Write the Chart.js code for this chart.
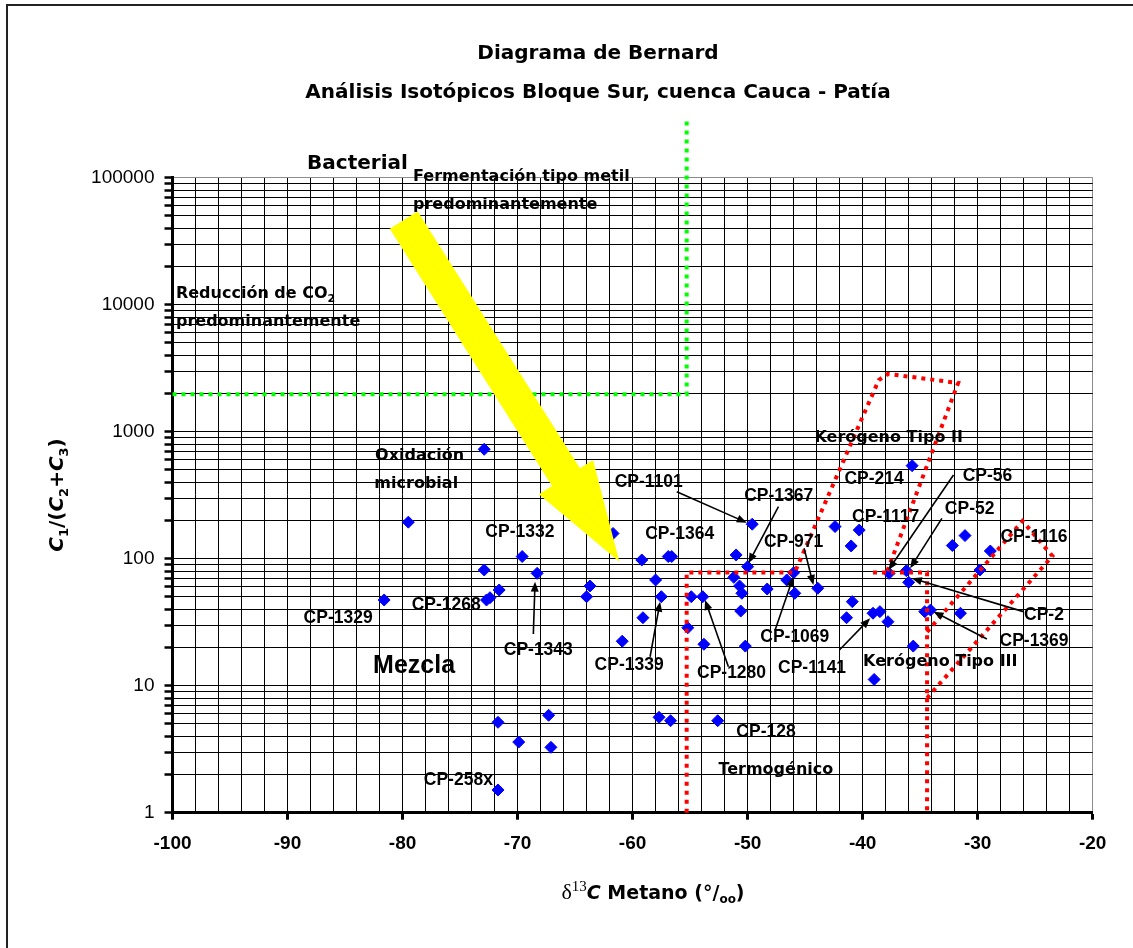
<!DOCTYPE html>
<html>
<head>
<meta charset="utf-8">
<title>Diagrama de Bernard</title>
<script src="https://cdn.jsdelivr.net/npm/chart.js@4.4.1/dist/chart.umd.min.js"></script>
<style>
  html, body { margin: 0; padding: 0; background: #fff; }
  #wrap { position: relative; width: 1133px; height: 948px; overflow: hidden; }
  #frame { position: absolute; left: 6px; top: 4px; width: 1140px; height: 960px; border-left: 2px solid #222; border-top: 2px solid #222; pointer-events: none; }
  canvas { position: absolute; left: 0; top: 0; }
</style>
</head>
<body>
<div id="wrap">
  <canvas id="bernardChart" width="1133" height="948"></canvas>
  <div id="frame"></div>
</div>
<script>
// muestras: d13C metano (per mil) y C1/(C2+C3)
const delta13C = [
  -72.9, -79.5, -69.6, -72.9, -68.3, -81.6, -72.7, -72.4, -71.6, -63.7,
  -64.0, -61.7, -59.2, -56.9, -56.6, -58.0, -57.5, -59.1, -60.9, -54.9,
  -53.9, -55.2, -53.8, -51.0, -49.6, -50.0, -51.2, -50.7, -50.5, -50.6,
  -50.2, -48.3, -46.6, -46.0, -45.9, -43.9, -42.4, -40.3, -41.0, -35.7,
  -37.7, -36.2, -36.0, -40.9, -41.4, -39.1, -38.5, -37.8, -35.6, -34.6,
  -34.1, -31.5, -32.2, -31.1, -29.8, -28.9, -39.0, -57.7, -56.7, -52.6,
  -71.7, -67.3, -69.9, -67.1, -71.7
];
const c1Ratio = [
  727, 194, 104, 81.5, 76.7, 47.3, 47.3, 49.3, 56.7, 61,
  50.2, 158, 97.7, 104, 104, 68, 50.2, 34.3, 22.4, 50.2,
  50.2, 28.6, 21.2, 107, 187, 86.5, 71.3, 61, 53.4, 38.7,
  20.5, 57.7, 68, 77.6, 53.4, 58.5, 179, 168, 126, 540,
  76.7, 80.5, 65.2, 45.9, 34.3, 37.2, 38.3, 31.9, 20.5, 38.3,
  39.4, 37.2, 127, 152, 81.5, 115, 11.2, 5.64, 5.3, 5.3,
  5.15, 5.85, 3.6, 3.27, 1.51
];

const xTickLabels = [-100, -90, -80, -70, -60, -50, -40, -30, -20];
const yTickLabels = [1, 10, 100, 1000, 10000, 100000];

// limites de los campos del diagrama
const bacterialX = [-100, -55.3, -55.3];
const bacterialY = [1970, 1970, 284000];
const termoX = [-55.3, -55.3, -45.9, -38.6, -37.8, -31.7, -37.9];
const termoY = [1, 78, 78, 2550, 2850, 2420, 78];
const tipo3X = [-39.1, -34.4, -34.4];
const tipo3Y = [78, 78, 1];
const tipo3BoxX = [-34.4, -26.1, -23.5, -34.4];
const tipo3BoxY = [26.5, 198, 105, 8.0];

// flecha amarilla (cola, punta)
const trendTail = [-79.9, 46450];
const trendTip = [-61.15, 94.7];

// etiquetas de muestras [texto, x, y]
const sampleNames = [
  ['CP-1329', -85.6, 34.3], ['CP-1268', -76.2, 43.2], ['CP-1332', -69.8, 163],
  ['CP-1343', -68.2, 19.1], ['CP-1101', -58.6, 397], ['CP-1367', -47.3, 312],
  ['CP-1364', -55.9, 156], ['CP-971', -46.0, 136], ['CP-214', -39.0, 422],
  ['CP-1117', -38.0, 212], ['CP-56', -29.15, 448], ['CP-52', -30.7, 246],
  ['CP-1116', -25.1, 149], ['CP-2', -24.24, 36.1], ['CP-1369', -25.1, 22.6],
  ['CP-1069', -45.9, 24.1], ['CP-1339', -60.3, 14.6], ['CP-1280', -51.4, 12.5],
  ['CP-1141', -44.4, 13.7], ['CP-128', -48.4, 4.34], ['CP-258x', -75.15, 1.81]
];
// flechas de las etiquetas [x0, y0, x1, y1]
const pointers = [
  [-56.16, 337, -50.07, 192], [-47.32, 257, -49.93, 92], [-45.09, 121, -44.28, 62.1],
  [-47.61, 27.5, -46.02, 72.2], [-42.02, 19.1, -39.35, 33.9], [-32.10, 456, -37.76, 81.5],
  [-33.11, 208, -35.87, 84], [-26.02, 38.3, -35.72, 70.1], [-29.20, 23.3, -33.84, 38.3],
  [-58.48, 16.9, -57.61, 45.9], [-51.67, 14.1, -53.70, 47.3], [-68.63, 25.5, -68.48, 65.9]
];
// textos de zonas [texto, x, y, alineacion]
const zoneNames = [
  ['Fermentación tipo metil', -79.09, 101800, 'left'],
  ['predominantemente', -79.09, 61000, 'left'],
  ['predominantemente', -99.7, 7350, 'left'],
  ['Oxidación', -82.39, 644, 'left'],
  ['microbial', -82.45, 387, 'left'],
  ['Kerógeno Tipo II', -44.19, 897, 'left'],
  ['Kerógeno Tipo III', -39.96, 15.45, 'left'],
  ['Termogénico', -52.54, 2.17, 'left']
];

const COMIC = '"Comic Sans MS", "DejaVu Sans", sans-serif';
const ARIAL = '"Liberation Sans", Arial, sans-serif';
const SERIF = '"Liberation Serif", "Times New Roman", serif';

function toPoints(xs, ys) {
  return xs.map((x, i) => ({ x: x, y: ys[i] }));
}

function boundary(xs, ys, color) {
  return {
    data: toPoints(xs, ys),
    showLine: true,
    borderColor: color,
    borderWidth: 4,
    borderDash: [4, 5],
    borderCapStyle: 'butt',
    pointRadius: 0,
    fill: false,
    clip: false,
    order: 0
  };
}

function drawRuns(ctx, runs, x, y, align) {
  let total = 0;
  runs.forEach(r => { ctx.font = r.font; r.w = ctx.measureText(r.t).width; total += r.w; });
  let cx = align === 'center' ? x - total / 2 : x;
  ctx.textAlign = 'left';
  ctx.textBaseline = 'alphabetic';
  runs.forEach(r => {
    ctx.font = r.font;
    ctx.fillText(r.t, cx, y + (r.dy || 0));
    cx += r.w;
  });
}

function bigArrow(ctx, x0, y0, x1, y1) {
  const shaftHalf = 16.5, headHalf = 32, headLen = 100;
  const len = Math.hypot(x1 - x0, y1 - y0);
  const ux = (x1 - x0) / len, uy = (y1 - y0) / len;
  const nx = -uy, ny = ux;
  const bx = x1 - ux * headLen, by = y1 - uy * headLen;
  ctx.beginPath();
  ctx.moveTo(x0 + nx * shaftHalf, y0 + ny * shaftHalf);
  ctx.lineTo(bx + nx * shaftHalf, by + ny * shaftHalf);
  ctx.lineTo(bx + nx * headHalf, by + ny * headHalf);
  ctx.lineTo(x1, y1);
  ctx.lineTo(bx - nx * headHalf, by - ny * headHalf);
  ctx.lineTo(bx - nx * shaftHalf, by - ny * shaftHalf);
  ctx.lineTo(x0 - nx * shaftHalf, y0 - ny * shaftHalf);
  ctx.closePath();
  ctx.fillStyle = '#ffff00';
  ctx.fill();
}

function pointer(ctx, x0, y0, x1, y1) {
  const a = Math.atan2(y1 - y0, x1 - x0);
  const head = 10, half = 4;
  ctx.strokeStyle = '#000';
  ctx.lineWidth = 1.6;
  ctx.beginPath();
  ctx.moveTo(x0, y0);
  ctx.lineTo(x1 - Math.cos(a) * head * 0.7, y1 - Math.sin(a) * head * 0.7);
  ctx.stroke();
  ctx.beginPath();
  ctx.moveTo(x1, y1);
  ctx.lineTo(x1 - head * Math.cos(a) + half * Math.sin(a), y1 - head * Math.sin(a) - half * Math.cos(a));
  ctx.lineTo(x1 - head * Math.cos(a) - half * Math.sin(a), y1 - head * Math.sin(a) + half * Math.cos(a));
  ctx.closePath();
  ctx.fillStyle = '#000';
  ctx.fill();
}

const overlayPlugin = {
  id: 'overlay',
  afterDraw(chart) {
    const ctx = chart.ctx;
    const px = v => chart.scales.x.getPixelForValue(v);
    const py = v => chart.scales.y.getPixelForValue(v);
    ctx.save();

    bigArrow(ctx, px(trendTail[0]), py(trendTail[1]), px(trendTip[0]), py(trendTip[1]));

    pointers.forEach(p => pointer(ctx, px(p[0]), py(p[1]), px(p[2]), py(p[3])));

    ctx.fillStyle = '#000';
    ctx.textBaseline = 'middle';
    ctx.font = 'bold 17.5px ' + ARIAL;
    ctx.textAlign = 'center';
    sampleNames.forEach(s => ctx.fillText(s[0], px(s[1]), py(s[2])));

    ctx.font = 'bold 16px ' + COMIC;
    zoneNames.forEach(z => {
      ctx.textAlign = z[3];
      ctx.fillText(z[0], px(z[1]), py(z[2]));
    });

    ctx.font = 'bold 20px ' + COMIC;
    ctx.textAlign = 'left';
    ctx.fillText('Bacterial', px(-88.3), py(128200));

    ctx.font = 'bold 25px ' + ARIAL;
    ctx.textAlign = 'center';
    ctx.fillText('Mezcla', px(-79.0), py(14.3));

    drawRuns(ctx, [
      { t: 'Reducción de CO', font: 'bold 16px ' + COMIC },
      { t: '2', font: 'bold 11px ' + COMIC, dy: 4 }
    ], px(-99.7), py(12650) + 6, 'left');

    // titulos
    ctx.textBaseline = 'middle';
    ctx.textAlign = 'center';
    ctx.font = 'bold 20px ' + COMIC;
    ctx.fillText('Diagrama de Bernard', 598, 54);
    ctx.fillText('Análisis Isotópicos Bloque Sur, cuenca Cauca - Patía', 598, 93);

    // titulo eje x
    drawRuns(ctx, [
      { t: 'δ', font: '22px ' + SERIF },
      { t: '13', font: '15px ' + SERIF, dy: -8 },
      { t: 'C', font: 'italic bold 19px ' + COMIC },
      { t: ' Metano (°/', font: 'bold 19px ' + COMIC },
      { t: 'oo', font: 'bold 12px ' + COMIC, dy: 4 },
      { t: ')', font: 'bold 19px ' + COMIC }
    ], 653, 899, 'center');

    // titulo eje y
    ctx.translate(56, 495);
    ctx.rotate(-Math.PI / 2);
    ctx.fillStyle = '#000';
    drawRuns(ctx, [
      { t: 'C', font: 'italic bold 20px ' + COMIC },
      { t: '1', font: 'bold 13px ' + COMIC, dy: 5 },
      { t: '/(', font: 'bold 20px ' + COMIC },
      { t: 'C', font: 'italic bold 20px ' + COMIC },
      { t: '2', font: 'bold 13px ' + COMIC, dy: 5 },
      { t: '+', font: 'bold 20px ' + COMIC },
      { t: 'C', font: 'italic bold 20px ' + COMIC },
      { t: '3', font: 'bold 13px ' + COMIC, dy: 5 },
      { t: ')', font: 'bold 20px ' + COMIC }
    ], 0, 7, 'center');

    ctx.restore();
  }
};

const xGrid = [];
for (let v = -100; v <= -20; v += 2) xGrid.push(v);
const yGrid = [];
for (let d = 0; d < 5; d++) {
  for (let m = 1; m <= 9; m++) yGrid.push(m * Math.pow(10, d));
}
yGrid.push(100000);

new Chart(document.getElementById('bernardChart'), {
  type: 'scatter',
  data: {
    datasets: [
      boundary(bacterialX, bacterialY, '#00ff00'),
      boundary(termoX, termoY, '#ff0000'),
      boundary(tipo3X, tipo3Y, '#ff0000'),
      boundary(tipo3BoxX, tipo3BoxY, '#ff0000'),
      {
        label: 'Muestras',
        data: toPoints(delta13C, c1Ratio),
        pointStyle: 'rectRot',
        pointRadius: 6,
        backgroundColor: '#0000ff',
        borderColor: '#0000ff',
        borderWidth: 1,
        showLine: false,
        order: 1
      }
    ]
  },
  options: {
    responsive: false,
    animation: false,
    layout: { padding: { left: 0, top: 177.7, right: 40.3, bottom: 75.3 } },
    plugins: {
      legend: { display: false },
      tooltip: { enabled: false },
      title: { display: false }
    },
    scales: {
      x: {
        type: 'linear',
        min: -100,
        max: -20,
        afterBuildTicks: s => { s.ticks = xGrid.map(v => ({ value: v })); },
        afterFit: s => { s.height = 60; },
        ticks: {
          autoSkip: false,
          maxRotation: 0,
          padding: 13,
          color: '#000',
          font: { family: ARIAL, size: 19, weight: 'bold' },
          callback: v => xTickLabels.includes(v) ? String(v) : ''
        },
        grid: {
          color: c => (c.tick && c.tick.value === -20) ? '#8c8c8c' : '#000',
          lineWidth: 1,
          tickLength: 7,
          tickWidth: 3,
          tickColor: c => (c.tick && xTickLabels.includes(c.tick.value)) ? '#000' : 'rgba(0,0,0,0)'
        },
        border: { color: '#000', width: 3 }
      },
      y: {
        type: 'logarithmic',
        min: 1,
        max: 100000,
        afterBuildTicks: s => { s.ticks = yGrid.map(v => ({ value: v })); },
        afterFit: s => { s.width = 172.5; },
        ticks: {
          autoSkip: false,
          padding: 10,
          color: '#000',
          font: { family: ARIAL, size: 19 },
          callback: v => yTickLabels.includes(v) ? String(v) : ''
        },
        grid: {
          color: c => (c.tick && c.tick.value === 100000) ? '#8c8c8c' : '#000',
          lineWidth: 1,
          tickLength: 8,
          tickWidth: 2.5,
          tickColor: '#000'
        },
        border: { color: '#000', width: 3 }
      }
    }
  },
  plugins: [overlayPlugin]
});
</script>
</body>
</html>
